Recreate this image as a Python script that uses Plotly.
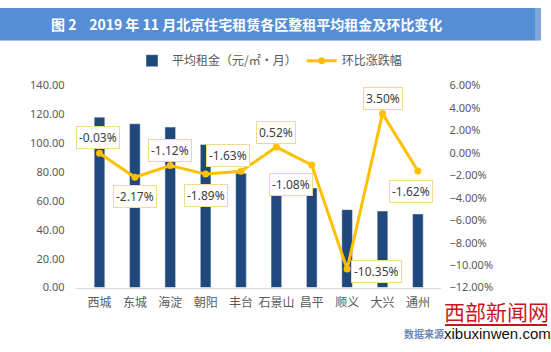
import plotly.graph_objects as go

districts = ["西城", "东城", "海淀", "朝阳", "丰台", "石景山", "昌平", "顺义", "大兴", "通州"]
avg_rent = [118.1, 113.5, 111.2, 99.1, 79.2, 66.6, 69.0, 54.0, 53.0, 51.0]
mom_change = [-0.03, -2.17, -1.12, -1.89, -1.63, 0.52, -1.08, -10.35, 3.50, -1.62]
label_xshift = [-2, 0, 0, 0, -13, 0, -21, 29, 0, -7]
label_yshift = [16, -19, 15, -21, 16, 15, -19, -2, 15, -20]

W, H = 551, 352
fig = go.Figure()
fig.add_trace(go.Bar(
    x=districts, y=avg_rent, name="平均租金（元/㎡·月）",
    marker=dict(color="#1F497D"), width=0.3, yaxis="y",
))
fig.add_trace(go.Scatter(
    x=districts, y=mom_change, name="环比涨跌幅", yaxis="y2",
    mode="lines+markers", line=dict(color="#FFC000", width=3),
    marker=dict(color="#FFC000", size=7),
))

for d, v, xs, ys in zip(districts, mom_change, label_xshift, label_yshift):
    fig.add_annotation(
        x=d, y=v, xref="x", yref="y2", text=f"{v:.2f}%", showarrow=False,
        xshift=xs, yshift=ys, xanchor="center", yanchor="middle",
        bgcolor="white", bordercolor="#F3D98A", borderwidth=1, borderpad=2,
        font=dict(size=12, color="#404040", family="Noto Sans"),
    )

# title bar
fig.add_shape(type="rect", xref="paper", yref="paper", x0=0, x1=535 / W, y0=1 - 34 / H, y1=1,
              fillcolor="#558ED5", line=dict(width=0), layer="below")
fig.add_shape(type="rect", xref="paper", yref="paper", x0=535 / W, x1=541 / W, y0=1 - 34 / H, y1=1,
              fillcolor="#7FA9DE", line=dict(width=0), layer="below")
fig.add_annotation(
    xref="paper", yref="paper", x=246 / W, y=1 - 17 / H, showarrow=False,
    text="<b>图 2&nbsp;&nbsp;&nbsp; 2019 年 11 月北京住宅租赁各区整租平均租金及环比变化</b>",
    font=dict(size=14, color="white", family="Noto Sans CJK SC"), xanchor="center", yanchor="middle",
)

# source / watermark
fig.add_annotation(xref="paper", yref="paper", x=446 / W, y=1 - 340 / H, showarrow=False,
                   text="<b>数据来源</b>", font=dict(size=10, color="#6A88B5", family="Noto Sans CJK SC"),
                   xanchor="right", yanchor="middle")
fig.add_annotation(xref="paper", yref="paper", x=496 / W, y=1 - 316 / H, showarrow=False,
                   text="西部新闻网", font=dict(size=21, color="#C8161D", family="Noto Sans CJK SC"),
                   xanchor="center", yanchor="middle")
fig.add_shape(type="line", xref="paper", yref="paper", x0=445 / W, x1=547 / W, y0=1 - 331 / H, y1=1 - 331 / H,
              line=dict(color="#C8161D", width=2))
fig.add_annotation(xref="paper", yref="paper", x=497 / W, y=1 - 340 / H, showarrow=False,
                   text="xibuxinwen.com", font=dict(size=15, color="#111111", family="Liberation Sans Narrow, Liberation Sans"),
                   xanchor="center", yanchor="middle", borderpad=0)

tick_font = dict(size=11, color="#595959", family="Noto Sans")
fig.update_layout(
    width=W, height=H, margin=dict(l=0, r=0, t=0, b=0),
    paper_bgcolor="white", plot_bgcolor="white",
    bargap=0.7,
    font=dict(family="Noto Sans CJK SC", color="#595959"),
    xaxis=dict(domain=[75.5 / W, 440.5 / W], showgrid=False, showline=True, linecolor="#D9D9D9",
               linewidth=1, ticks="", tickfont=dict(size=12, color="#595959", family="Noto Sans CJK SC"),
               ticklabelstandoff=4, anchor="y"),
    yaxis=dict(domain=[(H - 292) / H, (H - 81) / H], range=[0, 140], dtick=20, tickformat=".2f",
               showgrid=False, zeroline=False, showline=False, tickfont=tick_font, ticklabelstandoff=10,
               anchor="x"),
    yaxis2=dict(overlaying="y", side="right", range=[-12, 6], dtick=2, tickformat=".2f", ticksuffix="%",
                showgrid=False, zeroline=False, showline=False, tickfont=tick_font, ticklabelstandoff=8,
                anchor="x"),
    legend=dict(orientation="h", x=132 / W, y=1 - 55 / H, xanchor="left", yanchor="middle",
                font=dict(size=12, color="#595959", family="Noto Sans CJK SC"), bgcolor="rgba(0,0,0,0)",
                itemwidth=30, entrywidth=0),
    showlegend=True,
)
fig.write_html("out.html")
